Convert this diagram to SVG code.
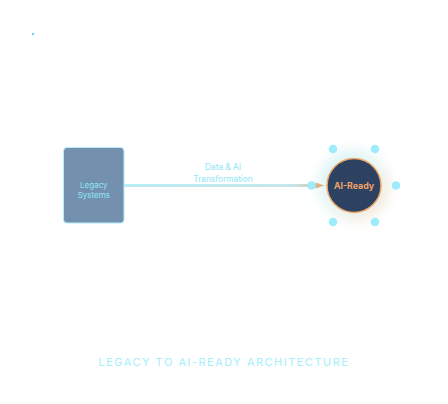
<svg xmlns="http://www.w3.org/2000/svg" width="448" height="404" viewBox="0 0 448 404">
<defs>
<style>
.lbl{font-family:Inter,"Liberation Sans",sans-serif;fill:#8fe6f7;text-anchor:middle}
.dot{fill:#9eebfc}
</style>
<linearGradient id="glowg" x1="0" y1="0" x2="1" y2="1">
<stop offset="0" stop-color="#c8f0f4"/>
<stop offset="0.5" stop-color="#dff2f0"/>
<stop offset="1" stop-color="#f8dcc4"/>
</linearGradient>
<filter id="blur" x="-50%" y="-50%" width="200%" height="200%">
<feGaussianBlur stdDeviation="6"/>
</filter>
<filter id="soft" x="-50%" y="-50%" width="200%" height="200%">
<feGaussianBlur stdDeviation="0.5"/>
</filter>
<linearGradient id="lineg" x1="124" y1="0" x2="324" y2="0" gradientUnits="userSpaceOnUse">
<stop offset="0" stop-color="#b6eff7"/>
<stop offset="0.85" stop-color="#c3e7e9"/>
<stop offset="1" stop-color="#e2b790"/>
</linearGradient>
</defs>
<rect width="448" height="404" fill="#ffffff"/>
<rect x="32" y="33" width="2" height="2" fill="#5fd6ec"/>
<circle cx="354" cy="185.5" r="36" fill="url(#glowg)" opacity="0.75" filter="url(#blur)"/>
<g id="connectors">
<line x1="124" y1="186" x2="318" y2="186" stroke="#d6dcdf" stroke-width="2"/>
<line x1="124" y1="185.3" x2="318" y2="185.3" stroke="url(#lineg)" stroke-width="2.4"/>
<polygon points="315.5,182.5 324.5,185.5 315.5,188.5" fill="#e2b088"/>
<text class="lbl" x="223" y="170" font-size="8.3">Data &amp; AI</text>
<text class="lbl" x="223" y="181.5" font-size="8.3">Transformation</text>
</g>
<g id="legacy">
<rect x="63.5" y="147.5" width="60.5" height="75.5" rx="3.5" fill="#7391ae" stroke="#b4eefa" stroke-width="1"/>
<text class="lbl" x="93.8" y="188" font-size="8">Legacy</text>
<text class="lbl" x="93.8" y="198" font-size="8">Systems</text>
</g>
<g id="ai-ready">
<circle cx="354" cy="185.5" r="27" fill="#2d4261" stroke="#f0a86a" stroke-width="1.5"/>
<text x="354" y="188.8" font-family="Inter,'Liberation Sans',sans-serif" font-size="8.8" font-weight="bold" fill="#f0a366" text-anchor="middle">AI-Ready</text>
<g filter="url(#soft)">
<circle class="dot" cx="396" cy="185.5" r="4.3"/>
<circle class="dot" cx="375" cy="149" r="4.3"/>
<circle class="dot" cx="333" cy="149" r="4.3"/>
<circle class="dot" cx="311.5" cy="185.5" r="4.3"/>
<circle class="dot" cx="333" cy="222" r="4.3"/>
<circle class="dot" cx="375" cy="222" r="4.3"/>
</g>
</g>
<text x="224" y="366" font-family="Inter,'Liberation Sans',sans-serif" font-size="11" letter-spacing="1.5" fill="#a6eefb" text-anchor="middle">LEGACY TO AI-READY ARCHITECTURE</text>
</svg>
